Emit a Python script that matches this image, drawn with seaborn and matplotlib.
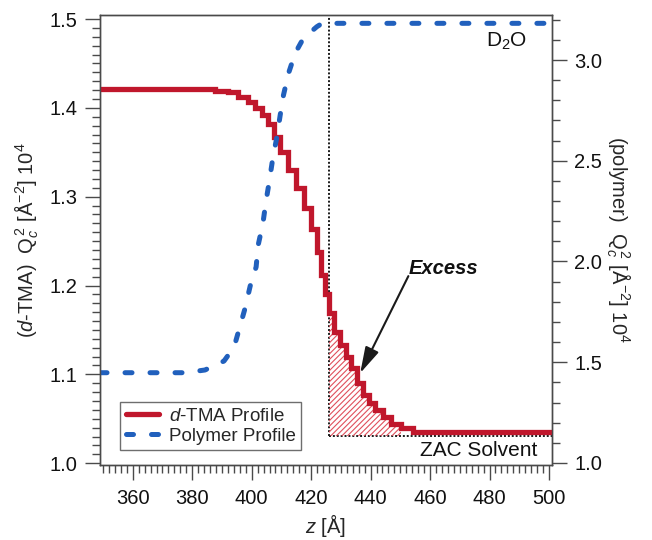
import numpy as np
import pandas as pd
import matplotlib
matplotlib.use("Agg")
import matplotlib.pyplot as plt
from matplotlib.ticker import MultipleLocator
from matplotlib.lines import Line2D
import seaborn as sns

# d-TMA profile (left axis), staircase: step start z and level
tma_z = [349, 387.7, 392.1, 395.4, 398.8, 401.2, 403.5, 405.5, 407.6, 409.6,
         412.3, 415.0, 417.7, 420.0, 422.0, 423.4, 424.7, 426.1, 427.8, 429.8,
         431.8, 433.5, 435.5, 437.5, 439.5, 441.6, 444.3, 446.9, 450.3, 454.4, 501]
tma_q = [1.421, 1.4195, 1.4175, 1.4125, 1.4065, 1.3998, 1.3919, 1.3818, 1.3675, 1.3506,
         1.3300, 1.3094, 1.2868, 1.2632, 1.2380, 1.2117, 1.1903, 1.1689, 1.1479, 1.1329,
         1.1197, 1.1067, 1.0898, 1.0766, 1.0676, 1.0597, 1.0521, 1.0447, 1.0391, 1.0349, 1.0349]

# polymer profile (right axis)
poly_z = [349, 377.6, 384.3, 390.7, 394.1, 396.1, 397.8, 399.5, 401.5, 402.2, 403.8, 404.8,
          406.0, 407.1, 408.5, 409.6, 410.7, 412.4, 414.6, 417.4, 421.9, 423.7, 501]
poly_q = [1.448, 1.448, 1.4615, 1.506, 1.576, 1.680, 1.769, 1.878, 1.973, 2.082, 2.191, 2.297,
          2.404, 2.512, 2.619, 2.727, 2.826, 2.934, 3.033, 3.108, 3.165, 3.182, 3.182]

interface_z = 426.1      # dotted divider
solvent_q = 1.031        # baseline of the excess area
excess_end = 450.3

RED = "#c0172c"
HATCH = "#e0505c"
BLUE = "#2160bd"
GREY = "#4a4a4a"

sns.set_theme(style="ticks")
plt.rcParams["font.family"] = ["Liberation Sans", "DejaVu Sans"]
plt.rcParams["mathtext.fontset"] = "custom"
plt.rcParams["mathtext.rm"] = "Liberation Sans"
plt.rcParams["mathtext.it"] = "Liberation Sans:italic"
plt.rcParams["mathtext.bf"] = "Liberation Sans:bold"
plt.rcParams["hatch.linewidth"] = 0.8

fig = plt.figure(figsize=(6.52, 5.4), dpi=100)
ax = fig.add_axes([0.1534, 0.1389, 0.6932, 0.8333])
ax2 = ax.twinx()

tma = pd.DataFrame({"z": tma_z, "q": tma_q})
poly = pd.DataFrame({"z": poly_z, "q": poly_q})

# dotted guides
ax.plot([interface_z, interface_z], [solvent_q, 1.5045], color="k", lw=1.4,
        linestyle=(0, (1, 1)), zorder=2)
ax.plot([interface_z, tma_z[-1]], [solvent_q, solvent_q], color="k", lw=1.4,
        linestyle=(0, (1, 1)), zorder=2)

# hatched excess area
sel = tma[(tma.z >= interface_z) & (tma.z <= excess_end)]
ax.fill_between(sel.z, solvent_q, sel.q, step="post", facecolor="none",
                edgecolor=HATCH, hatch="//////", linewidth=0, zorder=3)

sns.lineplot(data=tma, x="z", y="q", ax=ax, color=RED, lw=3.8,
             drawstyle="steps-post", errorbar=None, zorder=4)
ax.lines[-1].set_solid_joinstyle("miter")

sns.lineplot(data=poly, x="z", y="q", ax=ax2, color=BLUE, lw=3.6, errorbar=None)
bl = ax2.lines[-1]
bl.set_dashes([1.4, 3.6])
bl.set_dash_capstyle("round")

ax.set_xlim(349, 501)
ax.set_ylim(0.998, 1.5045)
ax2.set_ylim(0.990, 3.2233)

ax.xaxis.set_major_locator(MultipleLocator(20))
ax.xaxis.set_minor_locator(MultipleLocator(2))
ax.yaxis.set_major_locator(MultipleLocator(0.1))
ax.yaxis.set_minor_locator(MultipleLocator(0.01))
ax2.yaxis.set_major_locator(MultipleLocator(0.5))
ax2.yaxis.set_minor_locator(MultipleLocator(0.1))
ax.yaxis.set_major_formatter(plt.FuncFormatter(lambda v, p: f"{v:.1f}"))
ax2.yaxis.set_major_formatter(plt.FuncFormatter(lambda v, p: f"{v:.1f}"))

for a in (ax, ax2):
    a.tick_params(which="major", length=11, width=1, color=GREY, labelsize=14.5,
                  labelcolor="#111111", pad=5, direction="out")
    a.tick_params(which="minor", length=6, width=1, color=GREY, direction="out")
    for s in a.spines.values():
        s.set_visible(True)
        s.set_color(GREY)
        s.set_linewidth(1.0)
ax.tick_params(axis="x", which="major", pad=6)
ax.tick_params(right=False, which="both")
ax2.tick_params(left=False, which="both")

ax.set_xlabel(r"$z$ [Å]", fontsize=14.5, labelpad=3)
ax.set_ylabel(r"($d$-TMA)  Q$_c^{\,2}$ [Å$^{-2}$] 10$^4$", fontsize=14.5, labelpad=6)
ax2.set_ylabel(r"(polymer)  Q$_c^{\,2}$ [Å$^{-2}$] 10$^4$", fontsize=14.5,
               rotation=270, labelpad=22)

ax2.text(0.945, 0.942, r"D$_2$O", transform=ax2.transAxes, ha="right", va="center",
         fontsize=15, color="#111111")
ax2.text(0.967, 0.033, "ZAC Solvent", transform=ax2.transAxes, ha="right", va="center",
         fontsize=15, color="#111111")

ax.annotate("", xy=(436.5, 1.1014), xytext=(452.7, 1.2106),
            arrowprops=dict(arrowstyle="-|>,head_length=0.8,head_width=0.22",
                            color="k", lw=1.5, mutation_scale=20, shrinkA=0, shrinkB=0),
            zorder=6)
ax.text(464.4, 1.2196, "Excess", ha="center", va="center", fontsize=14.5,
        fontweight="bold", fontstyle="italic", color="#111111")

handles = [Line2D([], [], color=RED, lw=3.8),
           Line2D([], [], color=BLUE, lw=3.6, dashes=[1.4, 3.6], dash_capstyle="round")]
leg = ax2.legend(handles, [r"$d$-TMA Profile", "Polymer Profile"], loc="lower left",
                 bbox_to_anchor=(0.044, 0.033), borderaxespad=0, fontsize=13.5,
                 frameon=True, fancybox=False, edgecolor=GREY, handlelength=1.8,
                 handletextpad=0.5, labelspacing=0.15, borderpad=0.3)
leg.get_frame().set_linewidth(1.0)

fig.savefig("out.png", dpi=100)
